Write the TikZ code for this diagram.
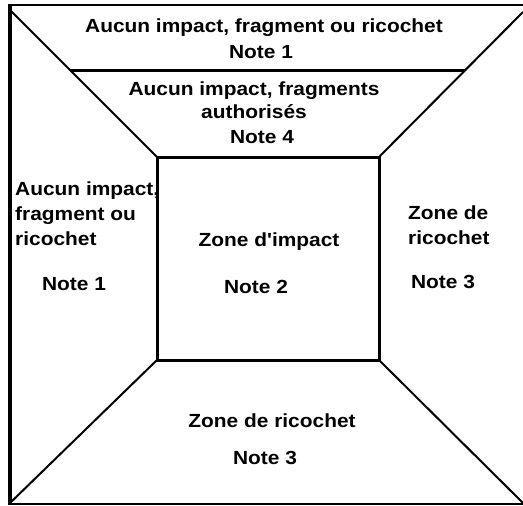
\documentclass[tikz,border=0pt]{standalone}
\usepackage{fontspec}
\usepackage{tikz}
\newfontfamily\zonefont{Liberation Sans}[FakeStretch=1.1]

\begin{document}
\begin{tikzpicture}[
  x=1pt, y=-1pt,
  every node/.style={font=\zonefont\bfseries\fontsize{19}{25}\selectfont,
                     inner sep=0pt},
  label/.style={anchor=base, align=center},
  side/.style={anchor=base west, align=left},
  rim/.style={line width=2pt},
  wall/.style={line width=3pt},
]
\useasboundingbox (0,0) rectangle (523,506);

% inner target square
\coordinate (tl) at (157,157);
\coordinate (tr) at (379,157);
\coordinate (br) at (379,360);
\coordinate (bl) at (157,360);

% outer frame corners
\coordinate (otl) at (10,10);
\coordinate (otr) at (523,12);
\coordinate (obl) at (10,503);
\coordinate (obr) at (523,503);

% frame
\draw[line width=2.5pt] (523,5) -- (8.5,5);
\draw[line width=3.5pt] (10,4) -- (10,505);
\draw[line width=1.5pt] (10,504) -- (523,504);

% corners to the square
\draw[rim] (otl) -- (tl);
\draw[rim] (otr) -- (tr);
\draw[rim] (obl) -- (bl);
\draw[rim] (obr) -- (br);

% upper band divider
\draw[wall] (70,70) -- (465,70);

\draw[wall] (tl) rectangle (br);

% top bands (base anchor sits on the last line)
\node[label] (n1top) at (264,32) {Aucun impact, fragment ou ricochet};
\node[label] (note1top) at (261,58) {Note 1};
\node[label, font=\zonefont\bfseries\fontsize{19}{23}\selectfont]
  (n4) at (254,118) {Aucun impact, fragments\\authorisés};
\node[label] (note4) at (262,143) {Note 4};

% left band
\node[side] (n1left) at (15,245) {Aucun impact,\\fragment ou\\ricochet};
\node[label] (note1left) at (74,290) {Note 1};

% centre
\node[label] (impact) at (269,246) {Zone d'impact};
\node[label] (note2) at (256,293) {Note 2};

% right band
\node[side] (ricright) at (408,244) {Zone de\\ricochet};
\node[label] (note3right) at (443,288) {Note 3};

% bottom band
\node[label] (ricbottom) at (272,427) {Zone de ricochet};
\node[label] (note3bottom) at (265,464) {Note 3};

\end{tikzpicture}
\end{document}
